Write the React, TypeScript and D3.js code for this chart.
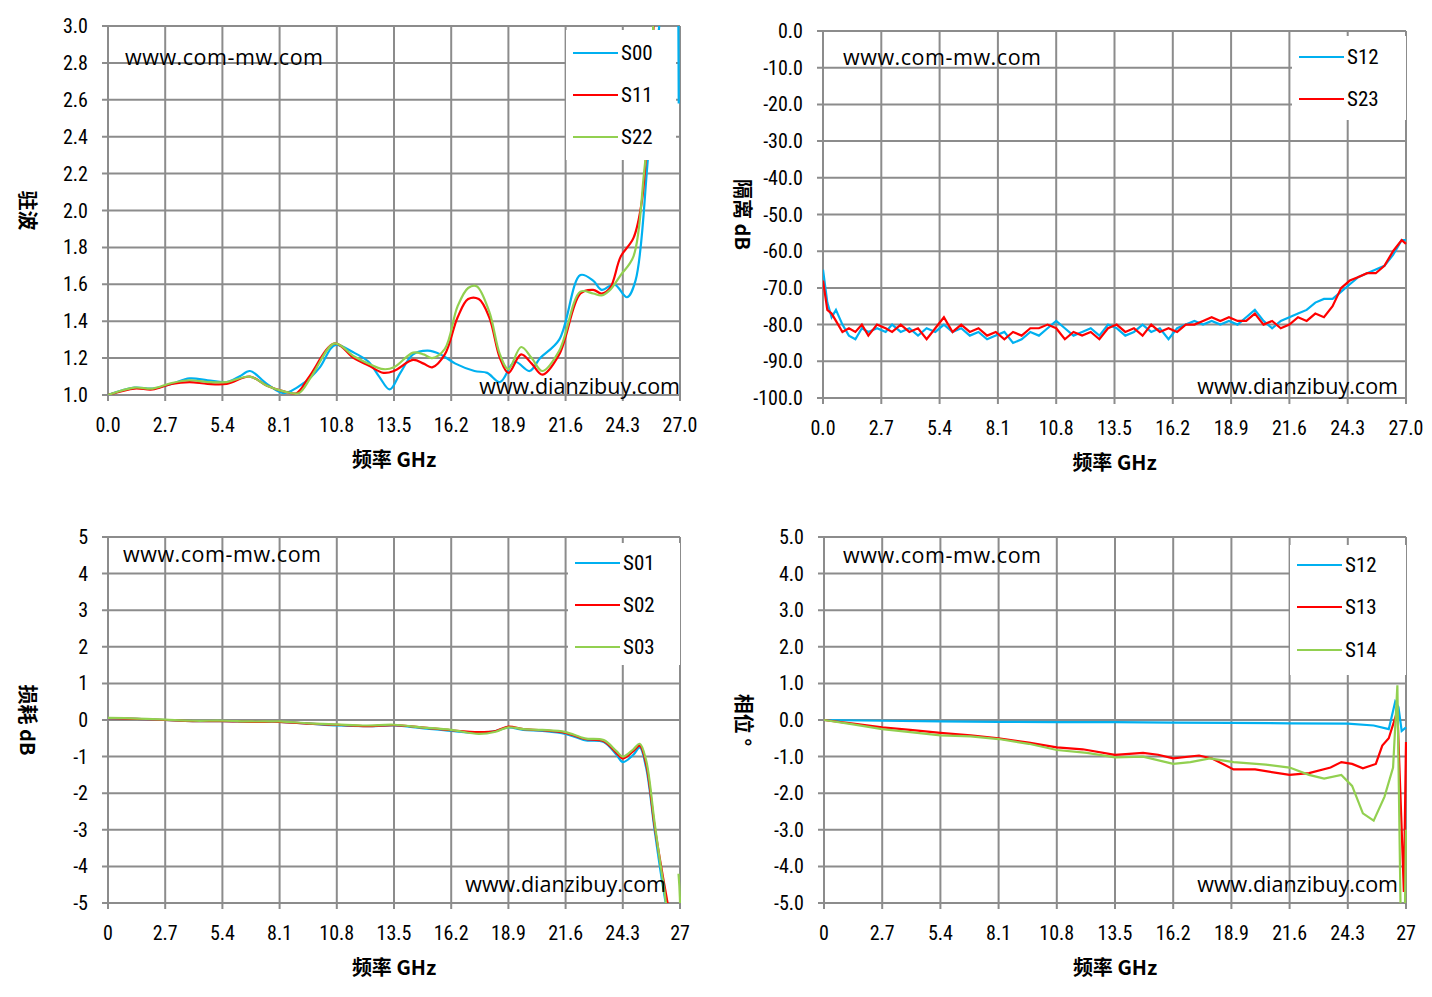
import * as d3 from 'd3'

type Pt = [number, number]

const X_TICKS = [0, 2.7, 5.4, 8.1, 10.8, 13.5, 16.2, 18.9, 21.6, 24.3, 27]

// 驻波 (VSWR)
const S00: Pt[] = [[0,1.0],[1.25,1.04],[2.1,1.035],[3.0,1.06],[3.85,1.09],[4.7,1.08],[5.6,1.07],[6.2,1.1],[6.7,1.13],[7.5,1.06],[8.3,1.01],[9.3,1.07],[10.0,1.15],[10.7,1.27],[11.6,1.23],[12.3,1.18],[12.8,1.1],[13.3,1.03],[13.8,1.12],[14.4,1.22],[15.1,1.24],[15.7,1.22],[16.4,1.17],[17.3,1.13],[17.9,1.12],[18.5,1.07],[19.2,1.18],[19.9,1.13],[20.4,1.2],[21.3,1.3],[22.3,1.65],[22.9,1.62],[23.3,1.57],[23.9,1.6],[24.5,1.53],[24.9,1.62],[25.5,2.3],[26.1,3.1],[26.4,3.4],[26.9,3.4],[26.92,3.1],[26.94,2.58]]
const S11: Pt[] = [[0,1.0],[1.25,1.035],[2.1,1.03],[3.0,1.06],[3.85,1.07],[4.7,1.06],[5.6,1.06],[6.7,1.1],[7.5,1.05],[8.3,1.02],[8.9,1.01],[9.5,1.1],[10.7,1.28],[11.6,1.2],[12.3,1.16],[13.0,1.12],[13.5,1.13],[14.4,1.19],[14.9,1.17],[15.3,1.15],[15.9,1.22],[16.5,1.42],[17.0,1.52],[17.5,1.52],[18.0,1.42],[18.5,1.2],[18.9,1.12],[19.5,1.22],[20.0,1.17],[20.5,1.11],[21.3,1.22],[22.3,1.55],[22.9,1.57],[23.3,1.55],[23.7,1.58],[24.2,1.75],[24.8,1.85],[25.2,2.05],[25.6,2.7],[25.9,3.3]]
const S22: Pt[] = [[0,1.0],[1.25,1.04],[2.1,1.035],[3.0,1.065],[3.85,1.08],[4.7,1.07],[5.6,1.07],[6.7,1.1],[7.5,1.05],[8.3,1.02],[9.0,1.01],[9.6,1.1],[10.7,1.28],[11.6,1.21],[12.3,1.17],[13.0,1.14],[13.5,1.15],[14.4,1.23],[14.9,1.22],[15.3,1.2],[15.9,1.25],[16.5,1.48],[17.0,1.58],[17.4,1.59],[18.0,1.45],[18.5,1.22],[18.9,1.14],[19.5,1.26],[20.0,1.2],[20.5,1.13],[21.3,1.24],[22.3,1.56],[22.9,1.55],[23.3,1.54],[23.7,1.57],[24.2,1.65],[24.8,1.75],[25.3,2.2],[25.6,2.6],[25.8,3.3]]

// 隔离 dB
const S12_ISO: Pt[] = [[0,-65],[0.2,-74],[0.4,-78],[0.6,-76],[0.9,-80],[1.2,-83],[1.5,-84],[1.8,-81],[2.1,-82],[2.5,-81],[2.9,-82],[3.2,-80],[3.6,-82],[4.0,-81],[4.4,-83],[4.8,-81],[5.2,-82],[5.6,-80],[6.0,-82],[6.4,-81],[6.8,-83],[7.2,-82],[7.6,-84],[8.0,-83],[8.4,-82],[8.8,-85],[9.2,-84],[9.6,-82],[10.0,-83],[10.4,-81],[10.8,-79],[11.2,-81],[11.6,-83],[12.0,-82],[12.4,-81],[12.8,-83],[13.2,-80],[13.6,-81],[14.0,-83],[14.4,-82],[14.8,-80],[15.2,-82],[15.6,-81],[16.0,-84],[16.4,-81],[16.8,-80],[17.2,-79],[17.6,-80],[18.0,-79],[18.4,-80],[18.8,-79],[19.2,-80],[19.6,-78],[20.0,-76],[20.4,-79],[20.8,-81],[21.2,-79],[21.6,-78],[22.0,-77],[22.4,-76],[22.8,-74],[23.2,-73],[23.6,-73],[24.0,-71],[24.4,-69],[24.8,-67],[25.2,-66],[25.6,-65],[26.0,-64],[26.4,-61],[26.8,-57],[27,-57]]
const S23_ISO: Pt[] = [[0,-68],[0.2,-76],[0.4,-77],[0.6,-79],[0.9,-82],[1.2,-81],[1.5,-82],[1.8,-80],[2.1,-83],[2.5,-80],[2.9,-81],[3.2,-82],[3.6,-80],[4.0,-82],[4.4,-81],[4.8,-84],[5.2,-81],[5.6,-78],[6.0,-82],[6.4,-80],[6.8,-82],[7.2,-81],[7.6,-83],[8.0,-82],[8.4,-84],[8.8,-82],[9.2,-83],[9.6,-81],[10.0,-81],[10.4,-80],[10.8,-81],[11.2,-84],[11.6,-82],[12.0,-83],[12.4,-82],[12.8,-84],[13.2,-81],[13.6,-80],[14.0,-82],[14.4,-81],[14.8,-83],[15.2,-80],[15.6,-82],[16.0,-81],[16.4,-82],[16.8,-80],[17.2,-80],[17.6,-79],[18.0,-78],[18.4,-79],[18.8,-78],[19.2,-79],[19.6,-79],[20.0,-77],[20.4,-80],[20.8,-79],[21.2,-81],[21.6,-80],[22.0,-78],[22.4,-79],[22.8,-77],[23.2,-78],[23.6,-75],[24.0,-70],[24.4,-68],[24.8,-67],[25.2,-66],[25.6,-66],[26.0,-64],[26.4,-60],[26.8,-57],[27,-58]]

// 损耗 dB
const S01: Pt[] = [[0,0.05],[1.35,0.03],[2.7,0],[4.0,-0.03],[5.4,-0.03],[6.8,-0.05],[8.1,-0.05],[9.5,-0.1],[10.8,-0.15],[12.2,-0.17],[13.5,-0.15],[14.8,-0.22],[16.2,-0.3],[17.5,-0.35],[18.3,-0.3],[18.9,-0.2],[19.6,-0.27],[20.5,-0.3],[21.6,-0.38],[22.5,-0.55],[23.4,-0.6],[24.0,-0.95],[24.3,-1.15],[24.8,-0.95],[25.1,-0.75],[25.4,-1.3],[25.8,-3.0],[26.1,-4.2],[26.5,-5.6]]
const S02: Pt[] = [[0,0.05],[1.35,0.03],[2.7,0],[4.0,-0.03],[5.4,-0.03],[6.8,-0.05],[8.1,-0.05],[9.5,-0.1],[10.8,-0.13],[12.2,-0.17],[13.5,-0.14],[14.8,-0.2],[16.2,-0.28],[17.5,-0.33],[18.3,-0.3],[18.9,-0.18],[19.6,-0.25],[20.5,-0.28],[21.6,-0.35],[22.5,-0.52],[23.4,-0.58],[24.0,-0.9],[24.3,-1.05],[24.8,-0.85],[25.1,-0.7],[25.4,-1.2],[25.8,-2.9],[26.2,-4.3],[26.6,-5.6]]
const S03: Pt[] = [[0,0.06],[1.35,0.04],[2.7,0.01],[4.0,-0.02],[5.4,-0.02],[6.8,-0.04],[8.1,-0.04],[9.5,-0.09],[10.8,-0.12],[12.2,-0.15],[13.5,-0.13],[14.8,-0.2],[16.2,-0.27],[17.5,-0.38],[18.3,-0.32],[18.9,-0.2],[19.6,-0.25],[20.5,-0.27],[21.6,-0.33],[22.5,-0.5],[23.4,-0.55],[24.0,-0.85],[24.3,-1.0],[24.8,-0.8],[25.1,-0.65],[25.4,-1.1],[25.8,-2.8],[26.2,-4.4],[26.6,-5.6],[26.9,-5.6],[26.93,-4.2]]

// 相位 °
const P12: Pt[] = [[0,0],[2.7,-0.02],[5.4,-0.04],[8.1,-0.05],[10.8,-0.06],[13.5,-0.06],[16.2,-0.07],[18.9,-0.08],[21.6,-0.09],[24.3,-0.1],[25.5,-0.15],[26.2,-0.25],[26.5,0.5],[26.65,0.35],[26.8,-0.3],[27,-0.2]]
const P13: Pt[] = [[0,0],[1.35,-0.1],[2.7,-0.2],[4.0,-0.27],[5.4,-0.35],[6.8,-0.42],[8.1,-0.5],[9.5,-0.62],[10.8,-0.75],[12.0,-0.8],[13.5,-0.95],[14.8,-0.9],[15.5,-0.95],[16.2,-1.05],[17.4,-0.97],[18.0,-1.05],[19.0,-1.35],[20.0,-1.35],[21.6,-1.5],[22.5,-1.45],[23.5,-1.3],[24.0,-1.15],[24.5,-1.2],[25.0,-1.32],[25.6,-1.2],[25.9,-0.7],[26.2,-0.5],[26.6,0.25],[26.8,-3.0],[26.9,-4.7],[27,-0.6]]
const P14: Pt[] = [[0,0],[1.35,-0.12],[2.7,-0.25],[4.0,-0.33],[5.4,-0.42],[6.8,-0.45],[8.1,-0.52],[9.5,-0.65],[10.8,-0.82],[12.2,-0.9],[13.5,-1.02],[14.8,-1.0],[16.2,-1.2],[17.0,-1.15],[17.9,-1.05],[19.0,-1.15],[20.5,-1.22],[21.6,-1.3],[22.5,-1.5],[23.2,-1.6],[24.0,-1.5],[24.5,-1.8],[25.0,-2.55],[25.5,-2.75],[26.0,-2.1],[26.4,-1.3],[26.6,0.95],[26.75,-5.2],[26.95,-5.2],[27,-3]]

const BLUE = '#00b0f0'
const RED = '#ff0000'
const GREEN = '#92d050'
const GRID = '#8c8c8c'
const FONT = "'Liberation Sans Narrow', 'Roboto Condensed', 'DejaVu Sans Condensed', Arial, sans-serif"

type Series = { name: string; color: string; data: Pt[] }

type PanelProps = {
  left: number
  top: number
  right: number
  bottom: number
  yDomain: [number, number]
  yStep: number
  yFmt: (v: number) => string
  xFmt: (v: number) => string
  yTitle: string
  series: Series[]
  legend: { x: number; y: number; w: number; h: number; rows: number[] }
  wm1: [number, number]
  wm2: [number, number]
  curve: d3.CurveFactory
}

function Panel(p: PanelProps) {
  const x = d3.scaleLinear().domain([0, 27]).range([p.left, p.right])
  const y = d3.scaleLinear().domain(p.yDomain).range([p.bottom, p.top])
  const yTicks = d3.range(p.yDomain[0], p.yDomain[1] + p.yStep / 2, p.yStep)
  const line = d3.line<Pt>().x((d) => x(d[0])).y((d) => y(d[1])).curve(p.curve)
  const clipId = `clip-${p.left}-${p.top}`
  const midX = (p.left + p.right) / 2
  const midY = (p.top + p.bottom) / 2
  return (
    <g fontFamily={FONT}>
      <defs>
        <clipPath id={clipId}>
          <rect x={p.left} y={p.top} width={p.right - p.left + 1} height={p.bottom - p.top} />
        </clipPath>
      </defs>
      {yTicks.map((t) => (
        <g key={'y' + t}>
          <line x1={p.left - 6} x2={p.right} y1={y(t)} y2={y(t)} stroke={GRID} strokeWidth={2} />
          <text x={p.left - 20} y={y(t) + 7} textAnchor="end" fontSize={20} fill="#000">
            {p.yFmt(t)}
          </text>
        </g>
      ))}
      {X_TICKS.map((t) => (
        <g key={'x' + t}>
          <line x1={x(t)} x2={x(t)} y1={p.top} y2={p.bottom + 6} stroke={GRID} strokeWidth={2} />
          <text x={x(t)} y={p.bottom + 37} textAnchor="middle" fontSize={20} fill="#000">
            {p.xFmt(t)}
          </text>
        </g>
      ))}
      <text x={midX} y={p.bottom + 72} textAnchor="middle" fontSize={20} fontWeight="bold" fontFamily="'Noto Sans CJK SC', sans-serif">
        频率 GHz
      </text>
      <text
        transform={`translate(${p.left - 88},${midY}) rotate(90)`}
        textAnchor="middle"
        fontSize={20}
        fontWeight="bold"
        fontFamily="'Noto Sans CJK SC', sans-serif"
      >
        {p.yTitle}
      </text>
      <g clipPath={`url(#${clipId})`}>
        {p.series.map((s) => (
          <path key={s.name} d={line(s.data) ?? ''} fill="none" stroke={s.color} strokeWidth={2.2} />
        ))}
      </g>
      <rect x={p.legend.x} y={p.legend.y} width={p.legend.w} height={p.legend.h} fill="#fff" />
      {p.series.map((s, i) => (
        <g key={'lg' + s.name}>
          <line x1={p.legend.x + 7} x2={p.legend.x + 52} y1={p.legend.rows[i]} y2={p.legend.rows[i]} stroke={s.color} strokeWidth={2.2} />
          <text x={p.legend.x + 55} y={p.legend.rows[i] + 7} fontSize={21}>
            {s.name}
          </text>
        </g>
      ))}
      <text x={p.wm1[0]} y={p.wm1[1]} fontSize={21.5} fontFamily="'Open Sans', sans-serif" textLength={198}>
        www.com-mw.com
      </text>
      <text x={p.wm2[0]} y={p.wm2[1]} textAnchor="end" fontSize={21.5} fontFamily="'Open Sans', sans-serif">
        www.dianzibuy.com
      </text>
    </g>
  )
}

const f1 = (v: number) => v.toFixed(1)

export default function App() {
  return (
    <svg width={1432} height={997} style={{ position: 'absolute', left: 0, top: 0, background: '#fff' }}>
      <Panel
        left={108} right={680} top={26} bottom={395}
        yDomain={[1, 3]} yStep={0.2} yFmt={f1} xFmt={f1} yTitle="驻波"
        series={[{ name: 'S00', color: BLUE, data: S00 }, { name: 'S11', color: RED, data: S11 }, { name: 'S22', color: GREEN, data: S22 }]}
        legend={{ x: 566, y: 30, w: 110, h: 130, rows: [53, 95, 137] }}
        wm1={[125, 65]} wm2={[680, 394]} curve={d3.curveCatmullRom}
      />
      <Panel
        left={823} right={1406} top={31} bottom={398}
        yDomain={[-100, 0]} yStep={10} yFmt={f1} xFmt={f1} yTitle="隔离 dB"
        series={[{ name: 'S12', color: BLUE, data: S12_ISO }, { name: 'S23', color: RED, data: S23_ISO }]}
        legend={{ x: 1292, y: 36, w: 114, h: 84, rows: [57, 99] }}
        wm1={[843, 65]} wm2={[1398, 394]} curve={d3.curveLinear}
      />
      <Panel
        left={108} right={680} top={537} bottom={903}
        yDomain={[-5, 5]} yStep={1} yFmt={(v) => d3.format('d')(v).replace('−', '-')} xFmt={(v) => String(v)} yTitle="损耗 dB"
        series={[{ name: 'S01', color: BLUE, data: S01 }, { name: 'S02', color: RED, data: S02 }, { name: 'S03', color: GREEN, data: S03 }]}
        legend={{ x: 568, y: 543, w: 112, h: 122, rows: [563, 605, 647] }}
        wm1={[123, 562]} wm2={[666, 892]} curve={d3.curveCatmullRom}
      />
      <Panel
        left={824} right={1406} top={537} bottom={903}
        yDomain={[-5, 5]} yStep={1} yFmt={f1} xFmt={(v) => String(v)} yTitle="相位 °"
        series={[{ name: 'S12', color: BLUE, data: P12 }, { name: 'S13', color: RED, data: P13 }, { name: 'S14', color: GREEN, data: P14 }]}
        legend={{ x: 1290, y: 545, w: 116, h: 130, rows: [565, 607, 650] }}
        wm1={[843, 563]} wm2={[1398, 892]} curve={d3.curveLinear}
      />
    </svg>
  )
}
